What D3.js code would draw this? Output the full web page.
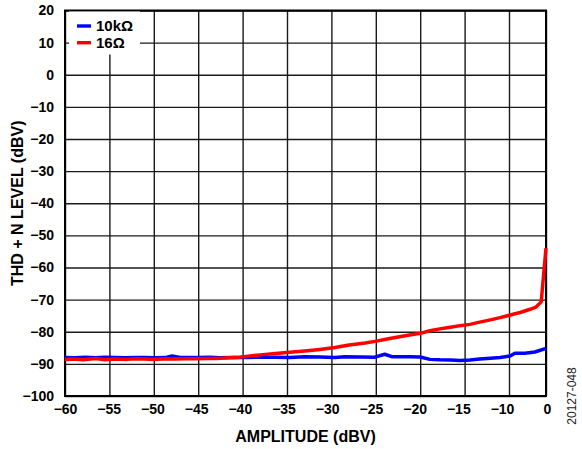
<!DOCTYPE html>
<html>
<head>
<meta charset="utf-8">
<script src="https://cdn.jsdelivr.net/npm/d3@7"></script>
<style>
  html, body { margin: 0; padding: 0; background: #fff; }
  svg { display: block; }
  text { font-family: "Liberation Sans", Arial, sans-serif; }
</style>
</head>
<body>
<svg id="chart" width="582" height="449"></svg>
<script>
// ---- data ----
const xTicks = [-60, -55, -50, -45, -40, -35, -30, -25, -20, -15, -10, 0];
const yTicks = [-100, -90, -80, -70, -60, -50, -40, -30, -20, -10, 0, 10, 20];

const seriesNames = ["10kΩ", "16Ω"];
const seriesColors = ["#0000ff", "#ff0000"];

// 10 kΩ load
const blueX = [-60, -58.9, -57.7, -56.6, -55.5, -54.4, -53.2, -52.1, -51, -49.9, -48.7, -47.95, -47.05, -45.9, -44.8, -43.7, -42.55, -41.4, -39.7, -38, -36.35, -34.7, -33, -31.3, -29.6, -28.5, -26.8, -25.1, -24, -23.2, -21.15, -20, -18.9, -17.8, -16.6, -15.5, -14.4, -13.3, -12.1, -11, -9.7, -8.4, -5.7, -3, 0];
const blueY = [-88.0, -88.1, -87.95, -88.1, -87.95, -88.0, -88.1, -88.0, -88.0, -88.1, -88.05, -87.55, -88.0, -88.0, -88.05, -87.95, -88.1, -88.05, -88.0, -87.95, -87.9, -88.0, -87.8, -87.85, -88.0, -87.8, -87.85, -87.9, -87.0, -87.75, -87.8, -87.85, -88.6, -88.75, -88.8, -88.95, -88.8, -88.5, -88.25, -88.0, -87.55, -86.7, -86.7, -86.3, -85.15];

// 16 Ω load
const redX = [-60, -59, -58, -56.5, -55.5, -54.5, -53, -52, -51, -50, -48.5, -47.5, -46.5, -45.5, -44, -43, -42, -40.3, -38, -36.3, -34.7, -33, -31.3, -29.6, -28, -26.2, -25.1, -24, -22.8, -21.2, -20, -18.9, -17.8, -16.6, -15.5, -14.4, -13.3, -12.1, -11, -9.7, -7, -4.3, -2.7, -1.3, 0];
const redY = [-88.6, -88.5, -88.7, -88.3, -88.7, -88.5, -88.6, -88.4, -88.5, -88.6, -88.4, -88.5, -88.4, -88.4, -88.3, -88.3, -88.2, -87.9, -87.2, -86.8, -86.4, -86.0, -85.5, -84.9, -84.1, -83.5, -83.0, -82.4, -81.8, -81.0, -80.5, -79.7, -79.1, -78.6, -78.1, -77.7, -77.0, -76.3, -75.6, -74.8, -74.0, -73.0, -72.3, -70.7, -54.0];

const xTitle = "AMPLITUDE (dBV)";
const yTitle = "THD + N LEVEL (dBV)";
const figId = "20127-048";

// ---- layout ----
const L = 65, R = 546, T = 10.5, B = 396;
const svg = d3.select("#chart");

const x = d3.scaleLinear().domain([-60, -10, 0]).range([L, 509, R]);
const y = d3.scaleLinear().domain([-100, 20]).range([B, T]);

// grid + labels via axes
const xAxis = d3.axisBottom(x).tickValues(xTicks).tickSizeInner(-(B - T)).tickSizeOuter(0).tickPadding(8)
  .tickFormat(d3.format("d"));
const gx = svg.append("g").attr("transform", `translate(0,${B})`).call(xAxis);
gx.select(".domain").remove();
gx.selectAll("line").attr("stroke", "#1a1a1a").attr("stroke-width", 1.4);
gx.selectAll("text").attr("fill", "#000").style("font-size", "14px").style("font-weight", "bold")
  .style("font-family", '"Liberation Sans", Arial, sans-serif')
  .attr("dx", d => d <= -10 ? -(d + 60) / 50 * 7 : 1);

const yAxis = d3.axisLeft(y).tickValues(yTicks).tickSizeInner(-(R - L)).tickSizeOuter(0).tickPadding(11)
  .tickFormat(d3.format("d"));
const gy = svg.append("g").attr("transform", `translate(${L},0)`).call(yAxis);
gy.select(".domain").remove();
gy.selectAll("line").attr("stroke", "#1a1a1a").attr("stroke-width", 1.4);
gy.selectAll("text").attr("fill", "#000").style("font-size", "14px").style("font-weight", "bold")
  .style("font-family", '"Liberation Sans", Arial, sans-serif');

// plot border
svg.append("rect").attr("x", L).attr("y", T).attr("width", R - L).attr("height", B - T)
  .attr("fill", "none").attr("stroke", "#000").attr("stroke-width", 2);

// legend
const lg = svg.append("g");
lg.append("rect").attr("x", 69).attr("y", T + 1).attr("width", 71).attr("height", 43).attr("fill", "#fff");
seriesNames.forEach((name, i) => {
  const cy = 26 + i * 16.7;
  lg.append("line").attr("x1", 77).attr("x2", 91).attr("y1", cy).attr("y2", cy)
    .attr("stroke", seriesColors[i]).attr("stroke-width", 3.4);
  lg.append("text").attr("x", 96).attr("y", cy + 5.4).text(name)
    .style("font-size", "15px").style("font-weight", "bold").attr("fill", "#000");
});

// lines
const line = d3.line().x(d => x(d[0])).y(d => y(d[1]));
const blue = blueX.map((v, i) => [v, blueY[i]]);
const red = redX.map((v, i) => [v, redY[i]]);
svg.append("path").datum(blue).attr("d", line).attr("fill", "none")
  .attr("stroke", seriesColors[0]).attr("stroke-width", 3.5).attr("stroke-linejoin", "round");
svg.append("path").datum(red).attr("d", line).attr("fill", "none")
  .attr("stroke", seriesColors[1]).attr("stroke-width", 3.5).attr("stroke-linejoin", "round");

// titles
svg.append("text").attr("x", (L + R) / 2).attr("y", 441.5).attr("text-anchor", "middle")
  .style("font-size", "16px").style("font-weight", "bold").text(xTitle);
svg.append("text").attr("transform", `translate(22.5,${(T + B) / 2}) rotate(-90)`).attr("text-anchor", "middle")
  .style("font-size", "16px").style("font-weight", "bold").text(yTitle);
svg.append("text").attr("transform", `translate(576,396) rotate(-90)`).attr("text-anchor", "middle")
  .style("font-size", "12px").attr("fill", "#222").text(figId);
</script>
</body>
</html>
